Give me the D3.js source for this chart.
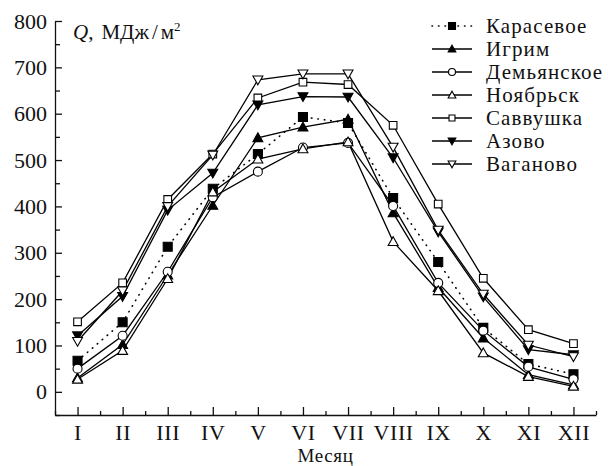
<!DOCTYPE html>
<html>
<head>
<meta charset="utf-8">
<script src="https://cdn.jsdelivr.net/npm/d3@7"></script>
<style>
  body { margin: 0; background: #fff; }
</style>
</head>
<body>
<svg id="chart" width="608" height="466" font-family="Liberation Serif"></svg>
<script>
// months and tick labels
const months = [1, 2, 3, 4, 5, 6, 7, 8, 9, 10, 11, 12];
const monthLabels = ["I", "II", "III", "IV", "V", "VI", "VII", "VIII", "IX", "X", "XI", "XII"];
const yTicks = [0, 100, 200, 300, 400, 500, 600, 700, 800];

// series values, MJ/m2
const karasevoe = [67, 150, 313, 438, 513, 593, 580, 418, 280, 138, 60, 38];
const igrim = [30, 102, 252, 402, 548, 571, 588, 386, 225, 116, 37, 15];
const demyanskoe = [50, 121, 259, 420, 475, 527, 537, 401, 235, 132, 54, 27];
const noyabrsk = [27, 89, 244, 431, 502, 524, 539, 324, 218, 84, 33, 12];
const savvushka = [151, 235, 415, 513, 634, 668, 663, 575, 405, 245, 134, 104];
const azovo = [121, 206, 392, 472, 619, 637, 636, 505, 345, 205, 91, 80];
const vaganovo = [109, 218, 400, 511, 673, 686, 686, 528, 349, 211, 101, 76];

const series = [
    {name: "Карасевое", values: karasevoe, marker: "square", fill: "#000", dotted: true},
    {name: "Игрим", values: igrim, marker: "up", fill: "#000"},
    {name: "Демьянское", values: demyanskoe, marker: "circle", fill: "#fff"},
    {name: "Ноябрьск", values: noyabrsk, marker: "up", fill: "#fff"},
    {name: "Саввушка", values: savvushka, marker: "square", fill: "#fff"},
    {name: "Азово", values: azovo, marker: "down", fill: "#000"},
    {name: "Ваганово", values: vaganovo, marker: "down", fill: "#fff"}
];

const font = "Liberation Serif";
const margin = {top: 21, right: 12, bottom: 51, left: 55};
const width = 608, height = 466;

const svg = d3.select("#chart");

const x = d3.scaleLinear()
    .domain([0.5, 12.5])
    .range([margin.left, width - margin.right]);

const y = d3.scaleLinear()
    .domain([-50, 800])
    .range([height - margin.bottom, margin.top]);

// marker path for a given kind
function markerPath(kind, s) {
    if (kind === "square") {
        return `M${-s},${-s}H${s}V${s}H${-s}Z`;
    }
    if (kind === "up") {
        return `M0,${-s * 1.1}L${s * 1.1},${s * 0.85}L${-s * 1.1},${s * 0.85}Z`;
    }
    if (kind === "down") {
        return `M0,${s * 1.1}L${s * 1.1},${-s * 0.85}L${-s * 1.1},${-s * 0.85}Z`;
    }
    return null;
}

// axes
const xAxisG = svg.append("g")
    .attr("transform", `translate(0,${y(-50)})`)
    .call(d3.axisBottom(x)
        .tickValues(months)
        .tickFormat((d, i) => monthLabels[i])
        .tickSizeInner(-8)
        .tickSizeOuter(0)
        .tickPadding(9));

svg.append("g")
    .attr("transform", `translate(0,${y(-50)})`)
    .call(d3.axisBottom(x)
        .tickValues(d3.range(0.5, 13, 1))
        .tickFormat("")
        .tickSizeInner(-4)
        .tickSizeOuter(0))
    .call(g => g.select(".domain").remove());

const yAxisG = svg.append("g")
    .attr("transform", `translate(${margin.left},0)`)
    .call(d3.axisLeft(y)
        .tickValues(yTicks)
        .tickSizeInner(-7)
        .tickSizeOuter(0)
        .tickPadding(8));

svg.append("g")
    .attr("transform", `translate(${margin.left},0)`)
    .call(d3.axisLeft(y)
        .tickValues(d3.range(-50, 800, 100))
        .tickFormat("")
        .tickSizeInner(-5)
        .tickSizeOuter(0))
    .call(g => g.select(".domain").remove());

svg.selectAll("g").attr("font-family", font);
svg.selectAll(".tick text")
    .attr("font-size", 22)
    .attr("font-family", font)
    .attr("fill", "#111");
xAxisG.selectAll(".tick text").attr("letter-spacing", 0.6);
svg.selectAll(".domain, .tick line")
    .attr("stroke", "#111")
    .attr("stroke-width", 1.3);

// axis titles
svg.append("text")
    .attr("x", (margin.left + width - margin.right) / 2)
    .attr("y", 462)
    .attr("text-anchor", "middle")
    .attr("font-size", 19)
    .attr("letter-spacing", 0.6)
    .attr("font-family", font)
    .attr("fill", "#111")
    .text("Месяц");

const qLabel = svg.append("text")
    .attr("x", 73)
    .attr("y", 39)
    .attr("font-size", 21)
    .attr("font-family", font)
    .attr("fill", "#111");
qLabel.append("tspan").attr("font-style", "italic").text("Q");
qLabel.append("tspan").text(",");
qLabel.append("tspan").attr("dx", 8).text("МДж");
qLabel.append("tspan").attr("dx", 3).text("/");
qLabel.append("tspan").attr("dx", 3).text("м");
qLabel.append("tspan").attr("font-size", 13).attr("dy", -8).text("2");

// lines
const line = d3.line()
    .x((d, i) => x(months[i]))
    .y(d => y(d));

const lineG = svg.append("g");
series.forEach(s => {
    lineG.append("path")
        .datum(s.values)
        .attr("fill", "none")
        .attr("stroke", "#000")
        .attr("stroke-width", s.dotted ? 1.6 : 1.3)
        .attr("stroke-linecap", s.dotted ? "round" : "butt")
        .attr("stroke-dasharray", s.dotted ? "0.5,6" : null)
        .attr("d", line);
});

// markers
function drawMarker(g, s, cx, cy, size) {
    if (s.marker === "circle") {
        g.append("circle")
            .attr("cx", cx).attr("cy", cy).attr("r", size)
            .attr("fill", s.fill).attr("stroke", "#000").attr("stroke-width", 1.1);
    } else {
        const sz = s.marker === "square" && s.fill === "#fff" ? size * 0.85 : size;
        g.append("path")
            .attr("transform", `translate(${cx},${cy})`)
            .attr("d", markerPath(s.marker, sz))
            .attr("fill", s.fill).attr("stroke", "#000").attr("stroke-width", 1.1);
    }
}

const markG = svg.append("g");
series.forEach(s => {
    s.values.forEach((v, i) => drawMarker(markG, s, x(months[i]), y(v), 4.5));
});

// legend
const legend = svg.append("g").attr("transform", "translate(432,26)");
series.forEach((s, i) => {
    const row = legend.append("g").attr("transform", `translate(0,${i * 23})`);
    row.append("line")
        .attr("x1", 0).attr("x2", 40)
        .attr("stroke", "#000")
        .attr("stroke-width", s.dotted ? 1.6 : 1.3)
        .attr("stroke-linecap", s.dotted ? "round" : "butt")
        .attr("stroke-dasharray", s.dotted ? "0.5,6" : null);
    drawMarker(row, s, 20, 0, 3.5);
    row.append("text")
        .attr("x", 54)
        .attr("y", 0)
        .attr("dy", "0.33em")
        .attr("font-size", 21)
        .attr("letter-spacing", 1.1)
        .attr("font-family", font)
        .attr("fill", "#111")
        .text(s.name);
});
</script>
</body>
</html>
